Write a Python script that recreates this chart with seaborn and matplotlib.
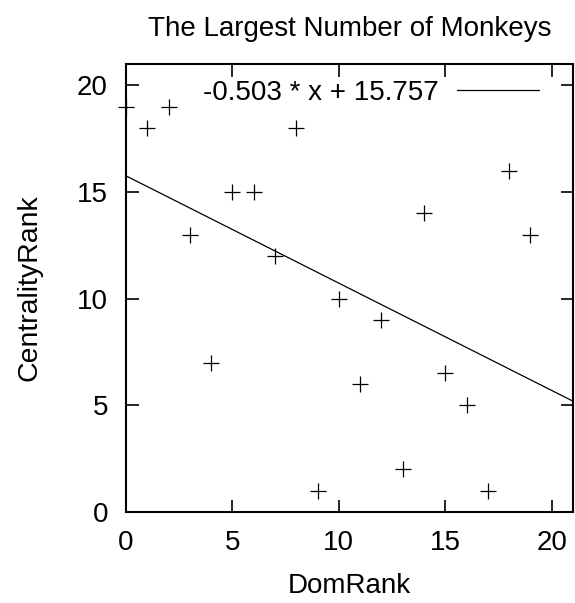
import numpy as np
import pandas as pd
import matplotlib
matplotlib.use("Agg")
import matplotlib.pyplot as plt
import seaborn as sns

# Dominance rank vs. centrality rank for each monkey
dom_rank = [0, 1, 2, 3, 4, 5, 6, 7, 8, 9, 10, 11, 12, 13, 14, 15, 16, 17, 18, 19]
centrality_rank = [19, 18, 19, 13, 7, 15, 15, 12, 18, 1, 10, 6, 9, 2, 14, 6.5, 5, 1, 16, 13]

# Fitted linear trend
slope = -0.503
intercept = 15.757
fit_label = f"{slope} * x + {intercept}"

x_ticks = [0, 5, 10, 15, 20]
y_ticks = [0, 5, 10, 15, 20]

sns.set_theme(style="white")
plt.rcParams["font.family"] = ["Liberation Sans", "DejaVu Sans"]
plt.rcParams["text.color"] = "black"
plt.rcParams["axes.labelcolor"] = "black"

df = pd.DataFrame({"DomRank": dom_rank, "CentralityRank": centrality_rank})

fig = plt.figure(figsize=(5.75, 6.03), dpi=100)
ax = fig.add_axes([126 / 575, 91 / 603, 447 / 575, 448 / 603])

sns.scatterplot(data=df, x="DomRank", y="CentralityRank", marker="+",
                s=140, color="black", linewidth=0.9, ax=ax, legend=False,
                clip_on=False, zorder=3)

xs = np.array([0, 21])
sns.lineplot(x=xs, y=slope * xs + intercept, color="black", linewidth=0.9,
             ax=ax, label=fit_label)

ax.set_xlim(0, 21)
ax.set_ylim(0, 21)
ax.set_xticks(x_ticks)
ax.set_yticks(y_ticks)
ax.tick_params(direction="in", length=9, width=1.2, labelsize=20,
               top=True, right=True, bottom=True, left=True,
               colors="black")
ax.tick_params(axis="x", pad=13)
ax.tick_params(axis="y", pad=13)
for spine in ax.spines.values():
    spine.set_color("black")
    spine.set_linewidth(1.5)

ax.set_xlabel("DomRank", fontsize=20, labelpad=12)
ax.set_ylabel("CentralityRank", fontsize=20.5, labelpad=25)
ax.set_title("The Largest Number of Monkeys", fontsize=20, pad=20)

leg = ax.legend(loc="upper right", bbox_to_anchor=(0.924, 0.965),
                frameon=False, fontsize=20, markerfirst=False,
                handlelength=2.95, borderaxespad=0, borderpad=0,
                handletextpad=0.68)

fig.savefig("out.png", dpi=100, facecolor="white")
